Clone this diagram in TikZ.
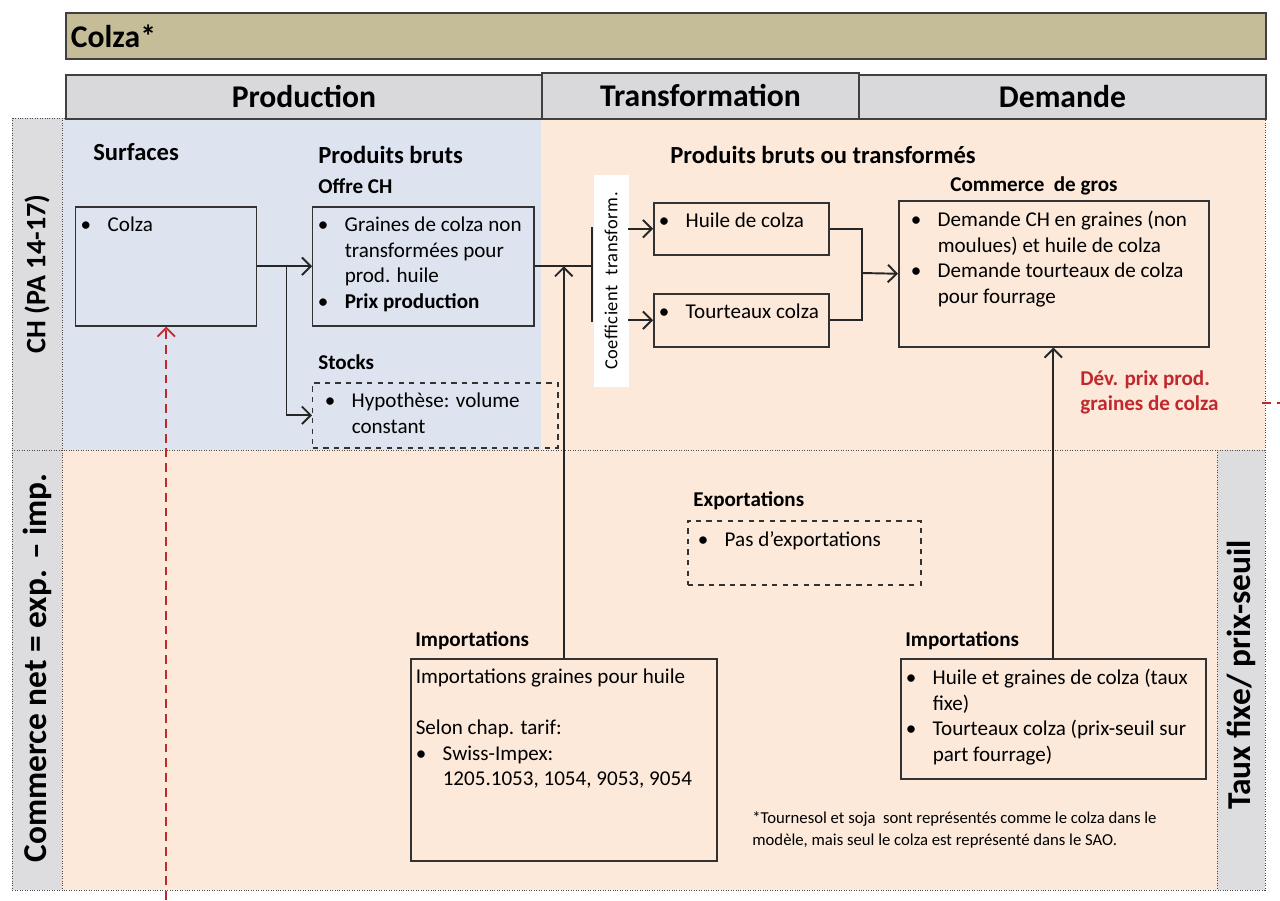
\documentclass[tikz,border=0pt]{standalone}
\usepackage{fontspec}
\setmainfont{Carlito}
\usetikzlibrary{arrows.meta}
\newdimen\px \px=0.02cm
\definecolor{khaki}{RGB}{196,189,151}
\definecolor{hdrgrey}{RGB}{217,217,220}
\definecolor{sidegrey}{RGB}{221,221,224}
\definecolor{bluebg}{RGB}{221,228,239}
\definecolor{peach}{RGB}{252,233,218}
\definecolor{devred}{RGB}{192,40,45}
\newcommand\itm[1][0]{\par\hangindent=\dimexpr27\px+#1\px\relax\hangafter=1\noindent\hspace*{#1\px}\makebox[27\px][l]{•}\ignorespaces}
\newcommand\bx[3]{\parbox[c][\dimexpr#2\px-21\px\relax][t]{\dimexpr#1\px-10\px\relax}{\raggedright#3}}
\begin{document}
\begin{tikzpicture}[x=0.02cm,y=-0.02cm,
  box/.style={draw=black!80,line width=0.85pt,anchor=north west,inner xsep=5\px,inner ysep=10.5\px,font=\fontsize{12}{14.5}\selectfont},
  dbox/.style={box,dashed},
  hdr/.style={draw=black!75,line width=1.1pt,fill=hdrgrey,anchor=north west,inner sep=0,font=\fontsize{18}{20}\bfseries},
  lbl/.style={anchor=base west,inner sep=0,font=\fontsize{14}{16}\bfseries},
  sublbl/.style={anchor=base west,inner sep=0,font=\fontsize{12}{14}\bfseries},
  side/.style={rotate=90,inner sep=0,font=\fontsize{19}{21}\bfseries},
  conn/.style={line width=1.1pt,black!85},
  arr/.style={conn,-{Straight Barb[length=5pt,width=10pt]}},
  reddash/.style={line width=1.1pt,devred,dash pattern=on 5pt off 3.4pt}]
\useasboundingbox (0,0) rectangle (1280,900);
\fill[bluebg] (62,118) rectangle (541,450);
\fill[peach] (541,118) rectangle (1265,450);
\fill[peach] (62,450) rectangle (1217,890);
\fill[sidegrey] (12,118) rectangle (62,890);
\fill[sidegrey] (1217,450) rectangle (1265,890);
\draw[densely dotted,black!70] (12,118) rectangle (1265,890) (62,118) -- (62,890) (12,450) -- (1265,450) (1217,450) -- (1217,890);
\node[side,font=\fontsize{16}{18}\bfseries] (ch) at (37,274) {CH (PA 14-17)};
\node[side] (net) at (37,668) {Commerce net = exp. – imp.};
\node[side] (taux) at (1241,675) {Taux fixe/ prix-seuil};
\node[draw=black!75,line width=1.1pt,fill=khaki,anchor=north west,inner xsep=5\px,inner ysep=0,text width=1190\px,minimum height=46\px,font=\fontsize{18}{20}\bfseries] (title) at (65,12) {Colza*};
\node[hdr,minimum width=476\px,minimum height=44\px] (prod) at (65,74) {Production};
\node[hdr,minimum width=317\px,minimum height=46\px] (trans) at (541,72) {Transformation};
\node[hdr,minimum width=407\px,minimum height=44\px] (dem) at (858,74) {Demande};
\node[lbl] (surf) at (93,160) {Surfaces};
\node[lbl] (pb) at (318,163) {Produits bruts};
\node[sublbl] (offre) at (318,193) {Offre CH};
\node[sublbl] (stk) at (318,369) {Stocks};
\node[lbl] (pbt) at (670,163) {Produits bruts ou transformés};
\node[sublbl] (gros) at (950,191) {Commerce\ \ de gros};
\node[sublbl] (exl) at (693,506) {Exportations};
\node[sublbl] (iml1) at (415,646) {Importations};
\node[sublbl] (iml2) at (905,646) {Importations};
\node[box] (colza) at (75,206) {\bx{181}{119}{\itm Colza}};
\node[box] (graines) at (312,206) {\bx{221}{119}{\itm Graines de colza non\newline transformées pour\newline prod. huile\itm\textbf{Prix production}}};
\node[dbox] (stocks) at (312,382) {\bx{245}{65}{\itm[7] Hypothèse: volume\newline constant}};
\node[box] (huile) at (653,202) {\bx{175}{52}{\itm Huile de colza}};
\node[box] (tourt) at (653,293) {\bx{175}{53}{\itm Tourteaux colza}};
\node[box] (demande) at (898,200) {\bx{310}{146}{\itm[7] Demande CH en graines (non\newline moulues) et huile de colza\itm[7] Demande tourteaux de colza\newline pour fourrage}};
\node[dbox] (export) at (687,520) {\bx{233}{64}{\itm[5] Pas d’exportations}};
\node[box] (imp1) at (410,658) {\bx{306}{202}{Importations graines pour huile\newline\mbox{}\newline Selon chap. tarif:\itm Swiss-Impex:\newline 1205.1053, 1054, 9053, 9054}};
\node[box] (imp2) at (900,658) {\bx{305}{120}{\itm Huile et graines de colza (taux\newline fixe)\itm Tourteaux colza (prix-seuil sur\newline part fourrage)}};
\node[fill=white,minimum width=212\px,minimum height=35\px,inner sep=0,rotate=90,font=\fontsize{10.5}{12}\selectfont\addfontfeature{LetterSpace=3}] (coef) at (611,281) {Coefficient\ \ transform.};
\node[anchor=base west,inner sep=0,align=left,text=devred,font=\fontsize{12}{14.2}\bfseries] (dev) at (1080,410) {Dév. prix prod.\\graines de colza};
\node[anchor=base west,inner sep=0,align=left,font=\fontsize{9.5}{12.5}\selectfont] (note) at (752,845) {*Tournesol et soja\ \ sont représentés comme le colza dans le\\modèle, mais seul le colza est représenté dans le SAO.};
\coordinate (bt) at (592,227);
\coordinate (bb) at (592,322);
\coordinate (jn) at (862,273);
\draw[conn] (bt) -- (bb);
\draw[arr] (colza.east) -- (graines.west);
\draw[arr] (colza.east) ++(29,0) |- (stocks.west);
\draw[conn] (graines.east) -- (graines.east -| bt);
\draw[arr] (huile.west) ++(-25,0) -- (huile.west);
\draw[arr] (tourt.west) ++(-25,0) -- (tourt.west);
\draw[conn] (huile.east) -| (jn);
\draw[conn] (tourt.east) -| (jn);
\draw[arr] (jn) -- (demande.west);
\draw[arr] (imp1.north) -- (imp1.north |- graines.east);
\draw[arr] (imp2.north) -- (imp2.north |- demande.south);
\coordinate (rs) at (colza.south |- 0,900);
\draw[reddash,-{Straight Barb[length=5pt,width=10pt]}] (rs) -- (colza.south);
\coordinate (rd1) at (1262,403);
\coordinate (rd2) at (1280,403);
\draw[reddash] (rd1) -- (rd2);
\end{tikzpicture}
\end{document}
